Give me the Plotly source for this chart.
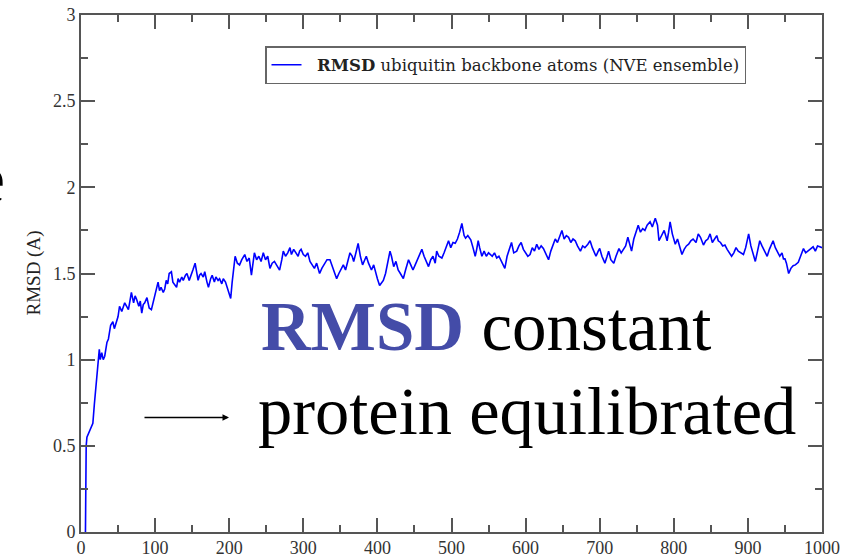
import plotly.graph_objects as go

# Time (ps) and backbone RMSD (A)
time_ps = [6, 6.5, 7, 8, 10, 12, 14.5, 16, 18, 21, 24.7, 26, 28, 30, 32, 35, 37, 40, 43, 45, 47,
           50, 52, 55, 59, 62, 64, 66, 68, 71, 73, 75, 78, 80, 82, 84, 86, 89, 92, 95, 97,
           99, 102, 104, 106, 108, 111, 113, 115, 117, 119, 122, 124, 126, 129, 131, 133,
           136, 138, 141, 143, 146, 148, 151, 154, 156, 158, 160, 162, 165, 167, 170, 172,
           175, 177, 180, 182, 185, 187, 190, 192, 195, 197, 199, 202, 204, 206, 208, 211,
           214, 217, 221, 224, 227, 230, 232, 234, 237, 240, 243, 246, 249, 252, 255, 258,
           261, 264, 268, 271, 273, 276, 279, 282, 284, 287, 290, 293, 295, 297, 300, 303,
           306, 309, 312, 315, 318, 322, 325, 328, 332, 336, 339, 342, 345, 348, 351, 354,
           357, 360, 363, 366, 368, 371, 374, 377, 380, 383, 385, 388, 392, 395, 397, 400,
           403, 406, 408, 411, 414, 417, 419, 422, 425, 428, 431, 435, 438, 442, 445, 448,
           451, 454, 457, 460, 463, 466, 469, 472, 475, 478, 480, 483, 487, 490, 493, 496,
           499, 502, 505, 508, 511, 514, 517, 519, 522, 526, 529, 532, 534, 536, 538, 541,
           544, 547, 550, 552, 555, 558, 561, 564, 567, 570, 572, 575, 578, 581, 584, 588,
           591, 594, 597, 600, 603, 606, 609, 612, 615, 618, 621, 624, 627, 631, 634, 637,
           640, 643, 646, 649, 652, 655, 658, 661, 664, 667, 670, 672, 674, 677, 680, 684,
           687, 690, 693, 695, 698, 700, 703, 707, 710, 712, 715, 719, 722, 726, 729, 732,
           735, 738, 741, 743, 746, 749, 752, 755, 758, 761, 764, 768, 771, 775, 778, 780,
           783, 787, 789, 791, 793, 795, 798, 802, 805, 808, 811, 814, 817, 820, 823, 826,
           830, 833, 836, 840, 843, 846, 849, 852, 855, 858, 860, 863, 866, 869, 872, 875,
           878, 881, 884, 887, 890, 894, 897, 901, 904, 907, 910, 913, 916, 919, 923, 926,
           929, 931, 934, 937, 940, 943, 946, 948, 950, 952, 955, 958, 961, 964, 968, 971,
           975, 978, 981, 984, 988, 991, 994, 997, 1000]
rmsd_A = [0.0, 0.3, 0.5, 0.55, 0.57, 0.59, 0.61, 0.63, 0.74, 0.88, 1.06, 1.0, 1.04, 1.0, 1.02, 1.1, 1.12, 1.2, 1.22, 1.18, 1.21,
          1.25, 1.31, 1.28, 1.33, 1.3, 1.29, 1.34, 1.39, 1.33, 1.37, 1.35, 1.31, 1.34, 1.27, 1.32, 1.33, 1.36, 1.3, 1.29, 1.33,
          1.36, 1.43, 1.45, 1.4, 1.42, 1.39, 1.41, 1.46, 1.44, 1.5, 1.51, 1.45, 1.44, 1.42, 1.47, 1.45,
          1.48, 1.46, 1.49, 1.5, 1.46, 1.49, 1.52, 1.56, 1.5, 1.46, 1.49, 1.5, 1.48, 1.51, 1.45, 1.42,
          1.47, 1.49, 1.45, 1.48, 1.46, 1.47, 1.44, 1.47, 1.45, 1.42, 1.4, 1.355, 1.45, 1.55, 1.6, 1.56,
          1.55, 1.58, 1.61, 1.57, 1.59, 1.49, 1.56, 1.62, 1.58, 1.6, 1.57, 1.62, 1.58, 1.6, 1.53, 1.56,
          1.57, 1.55, 1.52, 1.58, 1.63, 1.6, 1.62, 1.65, 1.61, 1.64, 1.62, 1.6, 1.63, 1.64, 1.61, 1.6,
          1.62, 1.57, 1.55, 1.53, 1.56, 1.5, 1.53, 1.55, 1.58, 1.58, 1.54, 1.5, 1.47, 1.5, 1.53, 1.55,
          1.52, 1.58, 1.62, 1.6, 1.57, 1.62, 1.675, 1.6, 1.55, 1.58, 1.6, 1.56, 1.52, 1.55, 1.51, 1.47,
          1.43, 1.45, 1.46, 1.5, 1.57, 1.63, 1.6, 1.54, 1.57, 1.52, 1.5, 1.47, 1.52, 1.58, 1.55, 1.52,
          1.55, 1.58, 1.6, 1.64, 1.6, 1.57, 1.54, 1.58, 1.6, 1.56, 1.63, 1.6, 1.59, 1.62, 1.65, 1.69,
          1.65, 1.68, 1.675, 1.7, 1.74, 1.79, 1.72, 1.705, 1.72, 1.695, 1.65, 1.6, 1.64, 1.69, 1.65, 1.6,
          1.63, 1.6, 1.62, 1.61, 1.6, 1.62, 1.59, 1.6, 1.57, 1.55, 1.53, 1.6, 1.64, 1.68, 1.62, 1.63,
          1.66, 1.68, 1.64, 1.62, 1.6, 1.61, 1.65, 1.63, 1.67, 1.64, 1.66, 1.645, 1.62, 1.58, 1.63, 1.67,
          1.7, 1.68, 1.71, 1.75, 1.7, 1.72, 1.71, 1.68, 1.7, 1.69, 1.66, 1.645, 1.63, 1.66, 1.65, 1.67,
          1.69, 1.65, 1.62, 1.6, 1.63, 1.645, 1.6, 1.56, 1.6, 1.63, 1.58, 1.56, 1.6, 1.645, 1.62, 1.64,
          1.66, 1.71, 1.66, 1.63, 1.7, 1.74, 1.78, 1.74, 1.76, 1.75, 1.78, 1.8, 1.77, 1.82, 1.78, 1.69,
          1.72, 1.75, 1.72, 1.69, 1.74, 1.8, 1.73, 1.67, 1.7, 1.65, 1.61, 1.64, 1.66, 1.67, 1.69, 1.7,
          1.68, 1.73, 1.71, 1.665, 1.69, 1.7, 1.73, 1.68, 1.7, 1.72, 1.69, 1.68, 1.66, 1.665, 1.64, 1.62,
          1.6, 1.62, 1.65, 1.63, 1.62, 1.61, 1.65, 1.73, 1.66, 1.62, 1.57, 1.63, 1.69, 1.66, 1.63, 1.6,
          1.64, 1.66, 1.69, 1.65, 1.62, 1.6, 1.62, 1.585, 1.585, 1.56, 1.5, 1.53, 1.545, 1.55, 1.565, 1.6,
          1.645, 1.62, 1.63, 1.64, 1.655, 1.63, 1.66, 1.655, 1.65]

x_ticks = [0, 100, 200, 300, 400, 500, 600, 700, 800, 900, 1000]
y_ticks = [0, 0.5, 1, 1.5, 2, 2.5, 3]
y_tick_labels = ["0", "0.5", "1", "1.5", "2", "2.5", "3"]

SERIF = "Liberation Serif, Times New Roman, serif"
WIDE_SERIF = "DejaVu Serif, serif"

L, R, T, B = 81, 35, 15, 25
PW, PH = 857 - L - R, 557 - T - B


def px(x):
    return (x - L) / PW


def py(y):
    return (557 - B - y) / PH


fig = go.Figure()
fig.add_trace(go.Scatter(
    x=time_ps, y=rmsd_A, mode="lines",
    line=dict(color="#0000FF", width=1.6),
    name="&nbsp;&nbsp;<b>RMSD</b> ubiquitin backbone atoms (NVE ensemble)",
))

axis_common = dict(
    showline=True, linecolor="#555555", linewidth=2,
    ticks="inside", ticklen=14, tickwidth=2, tickcolor="#555555",
    mirror="ticks", showgrid=False, zeroline=False, automargin=False,
    tickfont=dict(family=SERIF, size=18, color="#333333"),
)

fig.update_xaxes(range=[0, 1000], tickvals=x_ticks, ticklabelstandoff=-2,
                 minor=dict(ticks="inside", ticklen=7, tickwidth=2, tickcolor="#555555", dtick=50, showgrid=False),
                 **axis_common)
fig.update_yaxes(range=[0, 3], tickvals=y_ticks, ticktext=y_tick_labels,
                 minor=dict(ticks="inside", ticklen=7, tickwidth=2, tickcolor="#555555", dtick=0.25, showgrid=False),
                 **axis_common)

fig.update_layout(
    width=857, height=557, autosize=False,
    margin=dict(l=L, r=R, t=T, b=B, autoexpand=False),
    paper_bgcolor="white", plot_bgcolor="white",
    showlegend=True,
    legend=dict(x=px(265), y=py(65), xanchor="left", yanchor="middle",
                bgcolor="white", bordercolor="#666666", borderwidth=1.5,
                font=dict(family=WIDE_SERIF, size=16.5, color="#222222"),
                itemwidth=30, tracegroupgap=0),
    annotations=[
        dict(text="RMSD (A)", textangle=-90, xref="paper", yref="paper",
             x=px(33), y=0.5, xanchor="center", yanchor="middle", showarrow=False,
             font=dict(family=SERIF, size=19, color="#222222")),
        dict(text="<b><span style='color:#444CA8'>RMSD</span></b> constant",
             xref="paper", yref="paper", x=px(259), y=py(327),
             xanchor="left", yanchor="middle", showarrow=False,
             font=dict(family=SERIF, size=69, color="black")),
        dict(text="protein equilibrated",
             xref="paper", yref="paper", x=px(256), y=py(411),
             xanchor="left", yanchor="middle", showarrow=False,
             font=dict(family=SERIF, size=68.5, color="black")),
        dict(text="e", xref="paper", yref="paper", x=px(7), y=py(178),
             xanchor="right", yanchor="middle", showarrow=False,
             font=dict(family=SERIF, size=70, color="black")),
        dict(text="", xref="paper", yref="paper", x=px(229), y=py(417.5),
             axref="pixel", ayref="pixel", ax=-86, ay=0, showarrow=True,
             arrowhead=2, arrowsize=1, arrowwidth=1.3, arrowcolor="black"),
    ],
)

fig.write_html("out.html", config={"displayModeBar": False},
               post_script="document.body.style.margin='0';document.body.style.overflow='hidden';")
